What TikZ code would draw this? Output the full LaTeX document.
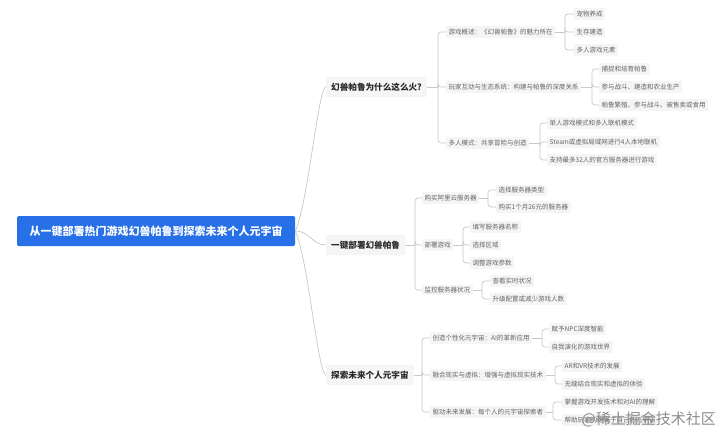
\documentclass[tikz,border=0pt]{standalone}
\usepackage{fontspec}
\setmainfont{Noto Sans CJK SC}
\definecolor{rootblue}{RGB}{40,112,232}
\definecolor{linegray}{RGB}{200,200,200}
\definecolor{boxgray}{RGB}{245,245,245}
\definecolor{leaftext}{RGB}{100,100,100}
\definecolor{l1text}{RGB}{40,40,40}
\begin{document}
\begin{tikzpicture}[x=1pt,y=-1pt,
  rootbox/.style={fill=rootblue,rounded corners=1.5pt,text=white,font=\fontsize{11}{13}\selectfont\bfseries,minimum width=278pt,minimum height=30pt,inner sep=0pt},
  lonebox/.style={fill=boxgray,rounded corners=1pt,text=l1text,font=\fontsize{8.6}{10}\selectfont\bfseries,inner xsep=5pt,inner ysep=6pt,anchor=west},
  leafbox/.style={fill=boxgray,text=leaftext,font=\fontsize{6.5}{8}\selectfont,inner xsep=2.5pt,inner ysep=2.5pt,anchor=west},
  conn/.style={draw=linegray,line width=0.7pt},
  brk/.style={draw=linegray,line width=0.7pt,rounded corners=3pt}]
\useasboundingbox (0,0) rectangle (720,436);
\fill[white] (0,0) rectangle (720,436);

% root
\node[rootbox] (root) at (156,231) {从一键部署热门游戏幻兽帕鲁到探索未来个人元宇宙};

% level 1
\node[lonebox] (A) at (326,87) {幻兽帕鲁为什么这么火?};
\node[lonebox] (B) at (326,245) {一键部署幻兽帕鲁};
\node[lonebox] (C) at (326,375) {探索未来个人元宇宙};

\draw[conn] (root.east) .. controls (308,205) and (318,87) .. (A.west);
\draw[conn] (root.east) .. controls (310,231) and (312,245) .. (B.west);
\draw[conn] (root.east) .. controls (308,258) and (318,375) .. (C.west);

% group A
\node[leafbox] (A1) at (446,32) {游戏概述：《幻兽帕鲁》的魅力所在};
\node[leafbox] (A2) at (446,87) {玩家互动与生态系统：构建与帕鲁的深度关系};
\node[leafbox] (A3) at (446,143) {多人模式：共享冒险与创造};
\coordinate (As) at (438,87);
\draw[conn] (A.east) -- (As);
\foreach \c in {A1,A2,A3} \draw[brk] (As) |- (\c.west);

\node[leafbox] (A11) at (574,14) {宠物养成};
\node[leafbox] (A12) at (574,32) {生存建造};
\node[leafbox] (A13) at (574,50) {多人游戏元素};
\coordinate (A1s) at (565,32);
\draw[conn] (A1.east) -- (A1s);
\foreach \c in {A11,A12,A13} \draw[brk] (A1s) |- (\c.west);

\node[leafbox] (A21) at (599,69) {捕捉和培育帕鲁};
\node[leafbox] (A22) at (599,87) {参与战斗、建造和农业生产};
\node[leafbox] (A23) at (599,105) {帕鲁繁殖、参与战斗、被售卖或食用};
\coordinate (A2s) at (592,87);
\draw[conn] (A2.east) -- (A2s);
\foreach \c in {A21,A22,A23} \draw[brk] (A2s) |- (\c.west);

\node[leafbox] (A31) at (547,123) {单人游戏模式和多人联机模式};
\node[leafbox] (A32) at (547,142) {Steam或虚拟局域网进行4人本地联机};
\node[leafbox] (A33) at (547,160) {支持最多32人的官方服务器进行游戏};
\coordinate (A3s) at (540,143);
\draw[conn] (A3.east) -- (A3s);
\foreach \c in {A31,A32,A33} \draw[brk] (A3s) |- (\c.west);

% group B
\node[leafbox] (B1) at (422,198) {购买阿里云服务器};
\node[leafbox] (B2) at (422,245) {部署游戏};
\node[leafbox] (B3) at (422,290) {监控服务器状况};
\coordinate (Bs) at (415,245);
\draw[conn] (B.east) -- (Bs);
\foreach \c in {B1,B2,B3} \draw[brk] (Bs) |- (\c.west);

\node[leafbox] (B11) at (496,190) {选择服务器类型};
\node[leafbox] (B12) at (496,207) {购买1个月26元的服务器};
\coordinate (B1s) at (488,198);
\draw[conn] (B1.east) -- (B1s);
\foreach \c in {B11,B12} \draw[brk] (B1s) |- (\c.west);

\node[leafbox] (B21) at (470,227) {填写服务器名称};
\node[leafbox] (B22) at (470,245) {选择区域};
\node[leafbox] (B23) at (470,263) {调整游戏参数};
\coordinate (B2s) at (463,245);
\draw[conn] (B2.east) -- (B2s);
\foreach \c in {B21,B22,B23} \draw[brk] (B2s) |- (\c.west);

\node[leafbox] (B31) at (490,281) {查看实时状况};
\node[leafbox] (B32) at (490,299) {升级配置或减少游戏人数};
\coordinate (B3s) at (482,290);
\draw[conn] (B3.east) -- (B3s);
\foreach \c in {B31,B32} \draw[brk] (B3s) |- (\c.west);

% group C
\node[leafbox] (C1) at (430,338) {创造个性化元宇宙：AI的革新应用};
\node[leafbox] (C2) at (430,375) {融合现实与虚拟：增强与虚拟现实技术};
\node[leafbox] (C3) at (430,412) {驱动未来发展：每个人的元宇宙探索者};
\coordinate (Cs) at (422,375);
\draw[conn] (C.east) -- (Cs);
\foreach \c in {C1,C2,C3} \draw[brk] (Cs) |- (\c.west);

\node[leafbox] (C11) at (549,329) {赋予NPC深度智能};
\node[leafbox] (C12) at (549,347) {自我演化的游戏世界};
\coordinate (C1s) at (542,338);
\draw[conn] (C1.east) -- (C1s);
\foreach \c in {C11,C12} \draw[brk] (C1s) |- (\c.west);

\node[leafbox] (C21) at (562,366) {AR和VR技术的发展};
\node[leafbox] (C22) at (562,384) {无缝结合现实和虚拟的体验};
\coordinate (C2s) at (555,375);
\draw[conn] (C2.east) -- (C2s);
\foreach \c in {C21,C22} \draw[brk] (C2s) |- (\c.west);

\node[leafbox] (C31) at (562,402) {掌握游戏开发技术和对AI的理解};
\node[leafbox] (C32) at (562,420) {帮助玩家构建属于自己的元宇宙};
\coordinate (C3s) at (553,412);
\draw[conn] (C3.east) -- (C3s);
\foreach \c in {C31,C32} \draw[brk] (C3s) |- (\c.west);

% watermark
\node[text=black!45,font=\fontsize{15}{17}\selectfont,anchor=east,inner sep=0pt] (wm) at (716,419) {@稀土掘金技术社区};
\end{tikzpicture}
\end{document}
